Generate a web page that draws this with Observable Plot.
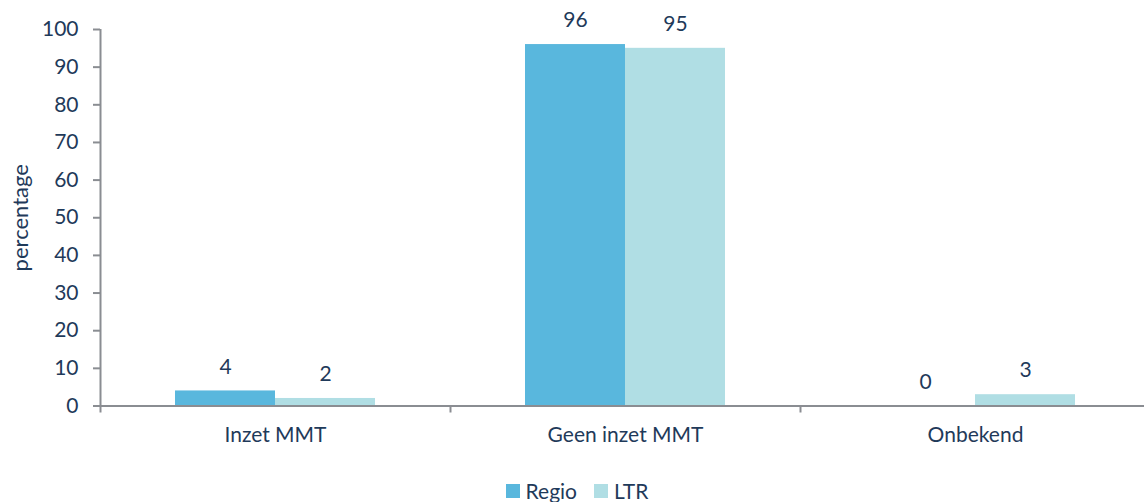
<!DOCTYPE html>
<html>
<head>
<meta charset="utf-8">
<script src="https://cdn.jsdelivr.net/npm/d3@7"></script>
<script src="https://cdn.jsdelivr.net/npm/@observablehq/plot@0.6"></script>
<style>
  body { margin: 0; background: #ffffff; font-family: Lato, "Open Sans", sans-serif; color: #1f3a5a; }
  #chart { width: 1144px; }
  #legend { display: flex; justify-content: center; padding-left: 10px; padding-top: 4px; }
  #legend > div { justify-content: center; margin: 0 !important; }
  #legend span > svg { margin-right: 6px !important; }
  #legend span { margin-right: 17px !important; }
  #legend span:last-child { margin-right: 0 !important; }
</style>
</head>
<body>
<div id="chart"></div>
<div id="legend"></div>
<script>
// Share of cases with and without MMT deployment, region vs national (LTR)
const categories = ["Inzet MMT", "Geen inzet MMT", "Onbekend"];
const seriesNames = ["Regio", "LTR"];
const regioValues = [4, 96, 0];
const ltrValues = [2, 95, 3];
const yTicks = [0, 10, 20, 30, 40, 50, 60, 70, 80, 90, 100];
const seriesColors = ["#59b7dd", "#b0dee4"];

const navy = "#1f3a5a";
const axisGray = "#8a8d92";
const fontStack = "Lato, 'Open Sans', sans-serif";

const rows = categories.flatMap((c, i) => [
  {category: c, series: "Regio", value: regioValues[i]},
  {category: c, series: "LTR", value: ltrValues[i]}
]);
const regioRows = rows.filter(d => d.series === "Regio");
const ltrRows = rows.filter(d => d.series === "LTR");

const chart = Plot.plot({
  width: 1144,
  height: 470,
  marginLeft: 100,
  marginRight: 0,
  marginTop: 29,
  marginBottom: 64.5,
  style: {fontFamily: fontStack, fontSize: "21px", color: navy, background: "#ffffff"},
  x: {domain: categories, range: [100, 1150], padding: 0},
  y: {domain: [0, 100]},
  color: {domain: seriesNames, range: seriesColors},
  marks: [
    Plot.barY(regioRows, {x: "category", y: "value", fill: "series", insetLeft: 75, insetRight: 175}),
    Plot.barY(ltrRows, {x: "category", y: "value", fill: "series", insetLeft: 175, insetRight: 75}),
    // value labels above each bar
    Plot.text(regioRows, {x: "category", y: "value", text: d => String(d.value), dx: -50, dy: -24, fill: navy}),
    Plot.text(ltrRows, {x: "category", y: "value", text: d => String(d.value), dx: 50, dy: -24, fill: navy}),
    // axis lines
    Plot.ruleY([0], {stroke: axisGray, strokeWidth: 2}),
    Plot.ruleX([categories[0]], {x: d => d, dx: -175, y1: 0, y2: 100, stroke: axisGray, strokeWidth: 2}),
    // category boundary ticks below the baseline
    Plot.ruleX(categories, {x: d => d, dx: -175, y1: 0, y2: 0, insetBottom: -7, stroke: axisGray, strokeWidth: 2}),
    Plot.axisY({ticks: yTicks, tickSize: 7, tickPadding: 15, stroke: axisGray, fill: navy, strokeWidth: 2,
      label: null}),
    // rotated y-axis title
    Plot.text(["percentage"], {frameAnchor: "left", textAnchor: "middle", dx: -80, rotate: -90, fill: navy, fontSize: 22}),
    Plot.axisX({tickSize: 0, tickPadding: 21, fill: navy, label: null})
  ]
});

document.getElementById("chart").appendChild(chart);

const legend = Plot.legend({
  color: {domain: seriesNames, range: seriesColors},
  legend: "swatches",
  swatchSize: 14,
  style: {fontFamily: fontStack, fontSize: "21px", color: navy}
});
document.getElementById("legend").appendChild(legend);
</script>
</body>
</html>
